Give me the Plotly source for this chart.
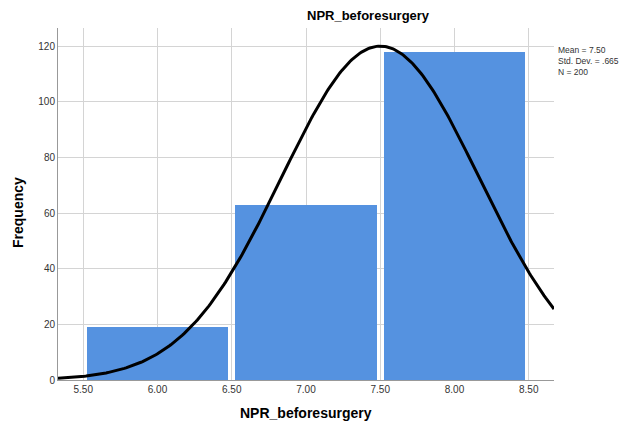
import numpy as np
import plotly.graph_objects as go

bin_left = [5.5, 6.5, 7.5]
bin_right = [6.5, 7.5, 8.5]
frequency = [19, 63, 118]
mean = 7.50
std = 0.665
n = 200
x_ticks = [5.5, 6.0, 6.5, 7.0, 7.5, 8.0, 8.5]
x_tick_labels = ["5.50", "6.00", "6.50", "7.00", "7.50", "8.00", "8.50"]
y_ticks = [0, 20, 40, 60, 80, 100, 120]

# page body has an 8px margin; target positions are in screenshot pixels
D = 8
W, H = 628, 426
L, T = 58 - D, 28 - D
R, B = W - (554 - D), H - (380 - D)
PW, PH = W - L - R, H - T - B


def px(x):
    return (x - D - L) / PW


def py(y):
    return 1 - (y - D - T) / PH


centers = [(a + b) / 2 for a, b in zip(bin_left, bin_right)]
binw = bin_right[0] - bin_left[0]

xs = np.linspace(5.33, 8.67, 300)
ys = n * binw / (std * np.sqrt(2 * np.pi)) * np.exp(-0.5 * ((xs - mean) / std) ** 2)

fig = go.Figure()
fig.add_trace(go.Bar(x=centers, y=frequency, width=binw * 0.95,
                     marker=dict(color="#5592E0", line=dict(width=0)),
                     showlegend=False, hoverinfo="skip"))
fig.add_trace(go.Scatter(x=xs, y=ys, mode="lines",
                         line=dict(color="black", width=3),
                         showlegend=False, hoverinfo="skip"))

fig.update_layout(
    width=W, height=H,
    margin=dict(l=L, r=R, t=T, b=B, autoexpand=False),
    paper_bgcolor="white", plot_bgcolor="white",
    font=dict(family="Liberation Sans, Arial, sans-serif", color="#333"),
    bargap=0,
    xaxis=dict(range=[5.33, 8.67], tickvals=x_ticks, ticktext=x_tick_labels,
               showgrid=True, gridcolor="#d4d4d4", gridwidth=1,
               showline=True, linecolor="#999", linewidth=1,
               zeroline=False, ticks="", tickfont=dict(size=10, color="#333"),
               automargin=False),
    yaxis=dict(range=[0, 126.5], tickvals=y_ticks,
               showgrid=True, gridcolor="#d4d4d4", gridwidth=1,
               showline=True, linecolor="#999", linewidth=1,
               zeroline=False, ticks="", tickfont=dict(size=10, color="#333"),
               automargin=False),
    annotations=[
        dict(text="<b>NPR_beforesurgery</b>", x=px(368), y=py(16), xref="paper", yref="paper",
             xanchor="center", yanchor="middle", borderpad=0,
             showarrow=False, font=dict(size=13, color="black")),
        dict(text="<b>NPR_beforesurgery</b>", x=px(306), y=py(413), xref="paper", yref="paper",
             xanchor="center", yanchor="middle",
             showarrow=False, font=dict(size=14, color="black")),
        dict(text="<b>Frequency</b>", x=px(18), y=py(213), xref="paper", yref="paper",
             xanchor="center", yanchor="middle",
             showarrow=False, textangle=-90, font=dict(size=14, color="black")),
        dict(text=f"Mean = {mean:.2f}<br>Std. Dev. = .665<br>N = {n}",
             xref="paper", yref="paper", x=px(556), y=py(43), xanchor="left", yanchor="top",
             align="left", showarrow=False, font=dict(size=8.5, color="#333")),
    ],
)

fig.write_html("out.html", config={"displayModeBar": False})
